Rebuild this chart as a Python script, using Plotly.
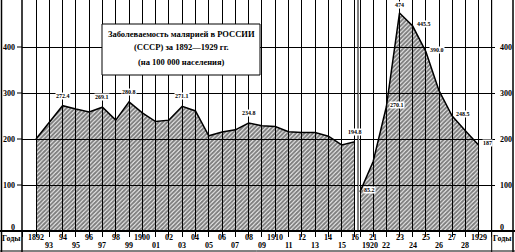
import plotly.graph_objects as go

# ---- data ----
years_a = list(range(1892, 1917))
vals_a = [200, 237, 272.4, 265, 259, 269.1, 241, 280.8, 257, 238, 241, 271.1, 261,
          207, 215, 220, 234.8, 229, 227, 216, 214, 214, 206, 187, 194]
years_b = list(range(1920, 1930))
vals_b = [85, 151, 270, 474, 445.5, 390, 305, 250, 218, 187]

label_a = {1894: "272.4", 1897: "269.1", 1899: "280.8", 1903: "271.1", 1908: "234.8", 1916: "194.8"}
label_b = {1920: "85.2", 1922: "270.1", 1923: "474", 1924: "445.5", 1925: "390.0", 1927: "248.5", 1929: "187"}

upper_a = ["1892", "94", "96", "98", "1900", "02", "04", "06", "08", "1910", "12", "14", "16"]
lower_a = ["93", "95", "97", "99", "01", "03", "05", "07", "09", "11", "13", "15"]
upper_b = ["21", "23", "25", "27", "1929"]
lower_b = ["1920", "22", "24", "26", "28"]
y_ticks = [0, 100, 200, 300, 400]

title_lines = ["Заболеваемость малярией в РОССИИ", "(СССР) за 1892—1929 гг.", "(на 100 000 населения)"]

W, H = 515, 252
L, R, T, B = 22, 20, 0, 21
PW, PH = W - L - R, H - T - B


def xp(px):
    return (px - L) / PW


def yp(py):
    return (H - B - py) / PH


FONT = "Liberation Serif"
pattern = dict(shape="/", fgcolor="black", bgcolor="rgba(0,0,0,0)", size=3, solidity=0.7)

fig = go.Figure()
fig.add_trace(go.Scatter(x=years_a, y=vals_a, xaxis="x", yaxis="y", mode="lines",
                         line=dict(color="black", width=1.5), fill="tozeroy",
                         fillcolor="rgba(0,0,0,0)", fillpattern=pattern, showlegend=False))
fig.add_trace(go.Scatter(x=years_b, y=vals_b, xaxis="x2", yaxis="y", mode="lines",
                         line=dict(color="black", width=1.5), fill="tozeroy",
                         fillcolor="rgba(0,0,0,0)", fillpattern=pattern, showlegend=False))

d1 = (357.5 - L) / PW
d2 = (358.5 - L) / PW
axcommon = dict(showgrid=True, gridcolor="black", gridwidth=1, dtick=1, zeroline=False,
                showticklabels=False, ticks="outside", ticklen=5, tickcolor="black", showline=False)
fig.update_layout(
    width=W, height=H, margin=dict(l=L, r=R, t=T, b=B),
    paper_bgcolor="white", plot_bgcolor="white",
    xaxis=dict(domain=[0, d1], range=[1890.947, 1916.19], tick0=1892, **axcommon),
    xaxis2=dict(domain=[d2, 1], range=[1919.886, 1930.25], tick0=1920, anchor="y", **axcommon),
    yaxis=dict(range=[0, 231 / 0.46], dtick=100, showgrid=True, gridcolor="black", gridwidth=1,
               zeroline=False, showticklabels=False, showline=False),
)

shapes = []
shapes.append(dict(type="line", xref="paper", yref="paper", x0=xp(0), x1=xp(515), y0=yp(231), y1=yp(231),
                   line=dict(color="black", width=2)))
shapes.append(dict(type="line", xref="paper", yref="paper", x0=xp(0), x1=xp(515), y0=yp(251), y1=yp(251),
                   line=dict(color="black", width=1)))
for px, w in [(1.5, 1.5), (22, 1.5), (513, 1.5), (491.7, 1)]:
    shapes.append(dict(type="line", xref="paper", yref="paper", x0=xp(px), x1=xp(px), y0=yp(0), y1=yp(252),
                       line=dict(color="black", width=w)))
shapes.append(dict(type="line", xref="paper", yref="paper", x0=xp(358), x1=xp(358), y0=yp(0), y1=yp(231),
                   line=dict(color="black", width=1)))
for v in y_ticks[1:]:
    py = 231 - v * 0.46
    shapes.append(dict(type="line", xref="paper", yref="paper", x0=xp(17), x1=xp(22), y0=yp(py), y1=yp(py),
                       line=dict(color="black", width=1)))
shapes.append(dict(type="rect", xref="paper", yref="paper", x0=xp(102), x1=xp(260), y0=yp(24), y1=yp(75),
                   fillcolor="white", line=dict(color="black", width=1), layer="above"))
fig.update_layout(shapes=shapes)

ann = []
tf = dict(family=FONT, size=8, color="#000000")
for v in y_ticks:
    py = 231 - v * 0.46 - (4 if v == 0 else 0)
    ann.append(dict(text="<b>%d</b>" % v, xref="paper", yref="paper", x=xp(17), y=yp(py), xanchor="right",
                    yanchor="middle", showarrow=False, font=tf))
    ann.append(dict(text="<b>%d</b>" % v, xref="paper", yref="paper", x=xp(498), y=yp(py), xanchor="left",
                    yanchor="middle", showarrow=False, font=tf))

ann.append(dict(text="<b>Годы</b>", xref="paper", yref="paper", x=xp(11.5), y=yp(238), xanchor="center",
                yanchor="middle", showarrow=False, font=tf))
ann.append(dict(text="<b>Годы</b>", xref="paper", yref="paper", x=xp(502), y=yp(238), xanchor="center",
                yanchor="middle", showarrow=False, font=tf))

for i, t in enumerate(upper_a):
    ann.append(dict(text="<b>%s</b>" % t, xref="x", yref="paper", x=1892 + 2 * i, y=yp(237), xanchor="center",
                    yanchor="middle", showarrow=False, font=tf))
for i, t in enumerate(lower_a):
    ann.append(dict(text="<b>%s</b>" % t, xref="x", yref="paper", x=1893 + 2 * i, y=yp(245.5), xanchor="center",
                    yanchor="middle", showarrow=False, font=tf))
for i, t in enumerate(upper_b):
    ann.append(dict(text="<b>%s</b>" % t, xref="x2", yref="paper", x=1921 + 2 * i, y=yp(237), xanchor="center",
                    yanchor="middle", showarrow=False, font=tf))
for i, t in enumerate(lower_b):
    ann.append(dict(text="<b>%s</b>" % t, xref="x2", yref="paper", x=1920 + 2 * i, y=yp(245.5),
                    xanchor="left" if t == "1920" else "center", yanchor="middle", showarrow=False, font=tf))

lf = dict(family=FONT, size=6, color="#000000")
for yr, t in label_a.items():
    v = vals_a[years_a.index(yr)]
    ann.append(dict(text="<b>%s</b>" % t, xref="x", yref="y", x=yr, y=v, yshift=6, xanchor="center",
                    yanchor="bottom", showarrow=False, font=lf, bgcolor="white", borderpad=0))
for yr, t in label_b.items():
    v = vals_b[years_b.index(yr)]
    xa, xs, ys = "left", 3, 2
    if yr == 1923:
        xa, xs, ys = "center", 0, 4
    ann.append(dict(text="<b>%s</b>" % t, xref="x2", yref="y", x=yr, y=v, xshift=xs, yshift=ys, xanchor=xa,
                    yanchor="bottom" if yr == 1923 else "middle", showarrow=False, font=lf, bgcolor="white",
                    borderpad=0))

for i, line in enumerate(title_lines):
    ann.append(dict(text="<b>%s</b>" % line, xref="paper", yref="paper", x=xp(181),
                    y=yp(33.5 + 14 * i), xanchor="center", yanchor="middle", showarrow=False,
                    font=dict(family=FONT, size=8.5, color="#000000")))

fig.update_layout(annotations=ann)
fig.write_html("out.html")
